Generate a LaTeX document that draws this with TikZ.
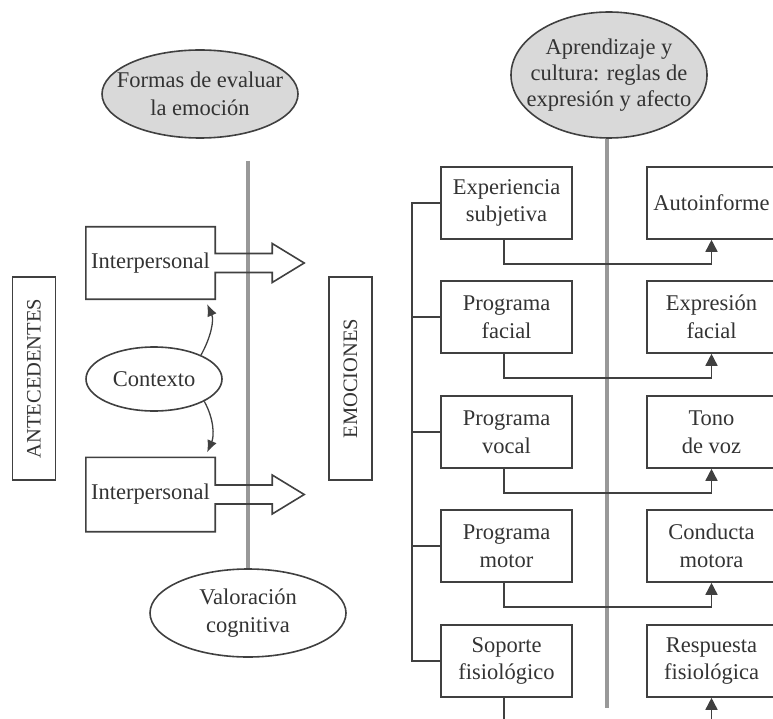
\documentclass[tikz,border=0pt]{standalone}
\usepackage{fontspec}
\setmainfont{Liberation Serif}
\usetikzlibrary{shapes.geometric,arrows.meta,calc}
\begin{document}
\begin{tikzpicture}[x=1pt,y=-1pt,
  txt/.style={font=\fontsize{22.5}{27.5}\selectfont, text=black!80, align=center, inner sep=0pt},
  box/.style={txt, draw=black!75, line width=1.6pt},
  oval/.style={ellipse, draw=black!75, line width=1.6pt, inner sep=0pt},
  grayline/.style={draw=black!40, line width=3.5pt},
  conn/.style={draw=black!75, line width=1.6pt, line join=miter},
  uptip/.style={-{Triangle[length=12pt,width=12pt]}},
  curvetip/.style={-{Latex[length=12pt,width=10pt]}},
  lbox/.style={box, minimum width=131pt, minimum height=72pt},
  rbox/.style={box, minimum width=129pt, minimum height=72pt},
  vlabel/.style={box, rotate=90, font=\fontsize{20.5}{24}\selectfont, minimum width=203pt, minimum height=43pt}
]
\useasboundingbox (0,0) rectangle (773,719);
\clip (0,0) rectangle (773,719);

% ---------- left part ----------
\node[oval, fill=black!15, minimum width=196pt, minimum height=88pt] (formas) at (200,94) {};
\node[txt] (formast) at (formas.center) {Formas de evaluar\\la emoción};

\node[oval, fill=white, minimum width=196pt, minimum height=88pt] (valor) at (248,613) {};
\node[txt] (valort) at (valor.center) {Valoración\\cognitiva};

\coordinate (gtop) at (248,161);
\draw[grayline] (gtop) -- (valor.north);

\node[vlabel] (ant) at (34,378.5) {ANTECEDENTES};
\node[vlabel] (emo) at (350.5,378.5) {EMOCIONES};

\node[txt, minimum width=129pt, minimum height=72pt] (i1) at (150.5,263) {Interpersonal};
\node[txt, minimum width=129pt, minimum height=74pt] (i2) at (150.5,494.5) {Interpersonal};

\foreach \b in {i1,i2}{
  \draw[conn] ($(\b.east)+(0,-9.5)$) -- (\b.north east) -- (\b.north west) -- (\b.south west) -- (\b.south east)
    -- ($(\b.east)+(0,9.5)$) -- ($(\b.east)+(57,9.5)$) -- ($(\b.east)+(57,19.5)$) -- ($(\b.east)+(89,0)$)
    -- ($(\b.east)+(57,-19.5)$) -- ($(\b.east)+(57,-9.5)$) -- cycle;
}

\node[oval, fill=white, minimum width=136pt, minimum height=64pt] (ctx) at (154,379) {};
\node[txt] (ctxt) at (ctx.center) {Contexto};

\draw[conn, line width=1.3pt, curvetip] (ctx.27) .. controls +(10,-18) and +(7,16) .. ($(i1.south east)+(-8,5)$);
\draw[conn, line width=1.3pt, curvetip] (ctx.-24) .. controls +(10,18) and +(7,-16) .. ($(i2.north east)+(-8,-5)$);

% ---------- right part ----------
\node[oval, fill=black!15, minimum width=196pt, minimum height=126pt] (apr) at (609,75) {};
\node[txt, font=\fontsize{22.5}{26}\selectfont] (aprt) at (apr.center) {Aprendizaje y\\cultura: reglas de\\expresión y afecto};

\coordinate (gbot) at (607,708);
\draw[grayline] (apr.south -| gbot) -- (gbot);

\node[lbox] (exp) at (506.5,203) {Experiencia\\subjetiva};
\node[lbox] (fac) at (506.5,317) {Programa\\facial};
\node[lbox] (voc) at (506.5,432) {Programa\\vocal};
\node[lbox] (mot) at (506.5,546) {Programa\\motor};
\node[lbox] (sop) at (506.5,661) {Soporte\\fisiológico};

\node[rbox] (aut) at (711.5,203) {Autoinforme};
\node[rbox] (efa) at (711.5,317) {Expresión\\facial};
\node[rbox] (ton) at (711.5,432) {Tono\\de voz};
\node[rbox] (con) at (711.5,546) {Conducta\\motora};
\node[rbox] (res) at (711.5,661) {Respuesta\\fisiológica};

\draw[conn] (exp.west) -- ++(-28,0) |- (sop.west);
\foreach \b in {fac,voc,mot}{ \draw[conn] (\b.west) -- ++(-28,0); }

\foreach \a/\b in {exp/aut,fac/efa,voc/ton,mot/con,sop/res}{
  \draw[conn, uptip] ($(\a.south)+(-2.5,0)$) -- ++(0,24) -| (\b.south);
}
\end{tikzpicture}
\end{document}
